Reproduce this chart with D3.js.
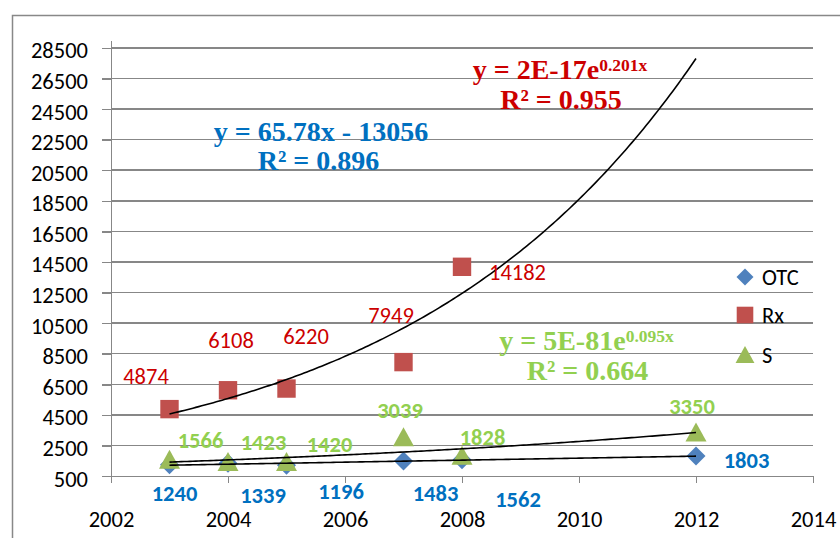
<!DOCTYPE html>
<html>
<head>
  <meta charset="utf-8">
  <style type="text/css">
  body {
    margin: 0;
    background: #fff;
  }
  svg {
    display: block;
  }
  .axis text, .legend text {
    font-family: Carlito, Lato, sans-serif;
    font-size: 22.5px;
    fill: #000;
  }
  .axis path, .axis line, .grid line {
    stroke: #878787;
    stroke-width: 1.5px;
    shape-rendering: crispEdges;
  }
  .trend {
    fill: none;
    stroke: #000;
    stroke-width: 1.6px;
  }
  .dlabel {
    font-family: Carlito, Lato, sans-serif;
    font-size: 22.5px;
    text-anchor: middle;
  }
  .eq {
    font-family: "Liberation Serif", "Times New Roman", serif;
    font-weight: bold;
    font-size: 28px;
    text-anchor: middle;
  }
  </style>
</head>
<body>
  <script src="https://d3js.org/d3.v7.min.js"></script>
  <script>
    // data (the 2012 Rx point sits above the axis and is not shown)
    var years = [2003, 2004, 2005, 2007, 2008, 2012];
    var otc = [1240, 1339, 1196, 1483, 1562, 1803];
    var rx = [4874, 6108, 6220, 7949, 14182, 29140];
    var s = [1566, 1423, 1420, 3039, 1828, 3350];

    var xTicks = [2002, 2004, 2006, 2008, 2010, 2012, 2014];
    var yTicks = [500, 2500, 4500, 6500, 8500, 10500, 12500, 14500, 16500, 18500, 20500, 22500, 24500, 26500, 28500];
    var seriesNames = ["OTC", "Rx", "S"];

    var otcEq = ["y = 65.78x - 13056", "R² = 0.896"];
    var rxEq = ["y = 2E-17e", "0.201x", "R² = 0.955"];
    var sEq = ["y = 5E-81e", "0.095x", "R² = 0.664"];

    // label placement (pixel offsets from each point), kept apart from the values
    var otcLabelPos = [[5, 36], [35, 40], [54.5, 33.5], [32, 40], [56, 47], [50.5, 12]];
    var rxLabelPos = [[-23.5, -25], [3, -42], [19.5, -44.5], [-12.5, -39], [55.5, 13], [0, 0]];
    var sLabelPos = [[31, -11.7], [35.5, -12], [43, -10], [-3.5, -19], [20.5, -10.7], [-4, -18]];

    var width = 840, height = 538;
    var left = 111, right = 813, bottom = 476;

    var x = d3.scaleLinear()
        .domain([2002, 2014])
        .range([left, right]);
    var y = d3.scaleLinear()
        .domain([500, 29000])
        .range([bottom, bottom - 28.5 * 15.29]);

    var svg = d3.select("body").append("svg")
        .attr("width", width)
        .attr("height", height);

    // chart area border (runs off the picture)
    svg.append("rect")
        .attr("x", 12.5).attr("y", 15.5)
        .attr("width", 900).attr("height", 600)
        .attr("fill", "none")
        .attr("stroke", "#888")
        .attr("stroke-width", 1.5);

    // gridlines
    svg.append("g")
        .attr("class", "grid")
      .selectAll("line")
        .data(yTicks.slice(1))
      .enter().append("line")
        .attr("x1", left).attr("x2", right)
        .attr("y1", function(d) { return y(d); })
        .attr("y2", function(d) { return y(d); });

    var yAxis = d3.axisLeft(y)
        .tickValues(yTicks)
        .tickFormat(d3.format("d"))
        .tickSize(9)
        .tickSizeOuter(0)
        .tickPadding(14);
    svg.append("g")
        .attr("class", "y axis")
        .attr("transform", "translate(" + left + ",0)")
        .call(yAxis)
      .selectAll("text")
        .attr("dy", 10);

    var xAxis = d3.axisBottom(x)
        .tickValues(xTicks)
        .tickFormat(d3.format("d"))
        .tickSize(7)
        .tickSizeOuter(0)
        .tickPadding(0);
    svg.append("g")
        .attr("class", "x axis")
        .attr("transform", "translate(0," + bottom + ")")
        .call(xAxis)
      .selectAll("text")
        .attr("y", 0)
        .attr("dy", 50.5);

    // marker shapes
    function diamond(r) { return "M0," + (-r) + "L" + r + ",0L0," + r + "L" + (-r) + ",0Z"; }
    function square(r) { return "M" + (-r) + "," + (-r) + "h" + 2 * r + "v" + 2 * r + "h" + (-2 * r) + "Z"; }
    function triangle(r) { return "M0," + (-r) + "L" + (r * 1.05) + "," + (r * 0.9) + "L" + (-r * 1.05) + "," + (r * 0.9) + "Z"; }

    var series = [
      {name: "OTC", values: otc, shape: diamond(9.5), fill: "#4f81bd", label: "#0070c0", weight: "bold", pos: otcLabelPos},
      {name: "Rx", values: rx, shape: square(9.2), fill: "#c0504d", label: "#cc0000", weight: "normal", pos: rxLabelPos},
      {name: "S", values: s, shape: triangle(10), fill: "#9bbb59", label: "#92d050", weight: "bold", pos: sLabelPos}
    ];

    function inRange(d) { return d.y <= y.domain()[1]; }

    var marks = svg.append("g");
    series.forEach(function(ser) {
      marks.selectAll(null)
          .data(years.map(function(yr, i) { return {x: yr, y: ser.values[i]}; }).filter(inRange))
        .enter().append("path")
          .attr("d", ser.shape)
          .attr("fill", ser.fill)
          .attr("transform", function(d) { return "translate(" + x(d.x) + "," + y(d.y) + ")"; });
    });

    // trendlines fitted to the series
    function linFit(xs, ys) {
      var mx = d3.mean(xs), my = d3.mean(ys);
      var sxy = d3.sum(xs, function(v, i) { return (v - mx) * (ys[i] - my); });
      var sxx = d3.sum(xs, function(v) { return (v - mx) * (v - mx); });
      var b = sxy / sxx;
      return function(t) { return my + b * (t - mx); };
    }
    function expFit(xs, ys) {
      var f = linFit(xs, ys.map(Math.log));
      return function(t) { return Math.exp(f(t)); };
    }
    var fits = [linFit(years, otc), expFit(years, rx), expFit(years, s)];
    var steps = d3.range(2003, 2012.0001, 0.05);
    var line = d3.line()
        .x(function(d) { return x(d[0]); })
        .y(function(d) { return y(d[1]); });
    fits.forEach(function(f) {
      svg.append("path")
          .attr("class", "trend")
          .attr("d", line(steps.map(function(t) { return [t, f(t)]; })));
    });

    // data labels
    series.forEach(function(ser) {
      svg.selectAll(null)
          .data(years.map(function(yr, i) { return {x: yr, y: ser.values[i], p: ser.pos[i]}; }).filter(inRange))
        .enter().append("text")
          .attr("class", "dlabel")
          .attr("fill", ser.label)
          .attr("font-weight", ser.weight)
          .attr("x", function(d) { return x(d.x) + d.p[0]; })
          .attr("y", function(d) { return y(d.y) + d.p[1]; })
          .text(function(d) { return d.y; });
    });

    // trendline equations
    svg.append("text").attr("class", "eq").attr("fill", "#0070c0")
        .attr("x", 321).attr("y", 141).text(otcEq[0]);
    svg.append("text").attr("class", "eq").attr("fill", "#0070c0")
        .attr("x", 318.5).attr("y", 170).text(otcEq[1]);

    function expEq(lines, color, cx, base) {
      var t = svg.append("text").attr("class", "eq").attr("fill", color)
          .attr("x", cx).attr("y", base);
      t.append("tspan").text(lines[0]);
      t.append("tspan").attr("font-size", "17.5px").attr("dy", -8).text(lines[1]);
      svg.append("text").attr("class", "eq").attr("fill", color)
          .attr("x", cx + 1).attr("y", base + 30).text(lines[2]);
    }
    expEq(rxEq, "#cc0000", 560, 79);
    expEq(sEq, "#92d050", 586.5, 350);

    // legend
    var legend = svg.append("g").attr("class", "legend");
    var legendY = [277, 315, 355];
    series.forEach(function(ser, i) {
      legend.append("path")
          .attr("d", i === 0 ? diamond(8.5) : i === 1 ? square(8.3) : triangle(9))
          .attr("fill", ser.fill)
          .attr("transform", "translate(745," + legendY[i] + ")");
      legend.append("text")
          .attr("x", 762)
          .attr("y", legendY[i] + 8)
          .text(seriesNames[i]);
    });
  </script>
</body>
</html>
